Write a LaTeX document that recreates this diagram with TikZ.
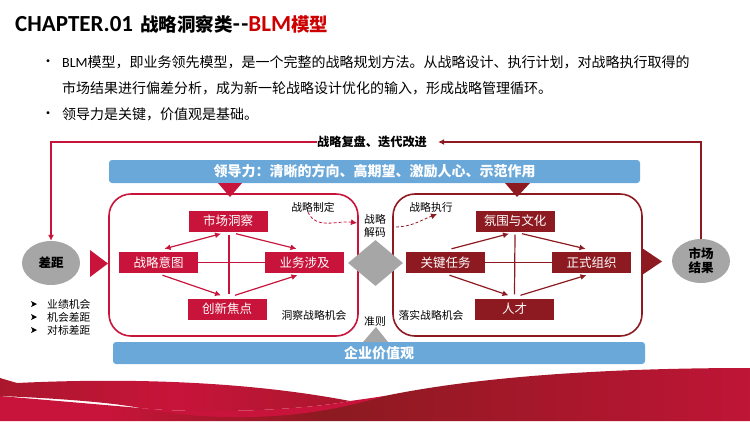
\documentclass[tikz,border=0pt]{standalone}
\usepackage{fontspec}
\usepackage{xcolor}
\setmainfont{Noto Sans CJK SC}
\newfontfamily\latinfont{Carlito}
\newcommand{\zhcomma}{\char"FF0C\relax}
\newcommand{\zhcolon}{\char"FF1A\relax}
\usetikzlibrary{shapes.geometric,arrows.meta,positioning,calc}
\definecolor{crimson}{HTML}{C8143A}
\definecolor{wine}{HTML}{8C1A20}
\definecolor{skyblue}{HTML}{6AA8D9}
\definecolor{stone}{HTML}{A6A6A6}
\pgfdeclarehorizontalshading{waveupper}{100bp}{color(0bp)=(wine); color(50bp)=(crimson); color(100bp)=(wine)}
\pgfdeclarehorizontalshading{wavebase}{100bp}{color(0bp)=(crimson); color(32bp)=(crimson); color(47bp)=(wine); color(80bp)=(crimson); color(100bp)=(crimson!45!wine)}
\tikzset{
    redbox/.style={fill=crimson, text=white, minimum width=79pt, minimum height=21pt, inner sep=0pt, font=\fontsize{12.5}{12.5}\selectfont},
    winebox/.style={redbox, fill=wine},
    bluebar/.style={fill=skyblue, rounded corners=3pt, text=white, inner sep=0pt, font=\fontsize{14}{14}\selectfont\bfseries},
    gapnode/.style={ellipse, fill=stone, minimum width=58pt, minimum height=44pt, inner sep=0pt, align=center, font=\fontsize{12.5}{14}\selectfont\bfseries},
    small/.style={font=\fontsize{10.8}{13}\selectfont, inner sep=0pt, align=center},
    redline/.style={crimson, line width=1.2pt},
    wineline/.style={wine, line width=1.2pt},
    tip/.style={-{Latex[length=6pt,width=6pt]}},
    bitip/.style={{Latex[length=6pt,width=6pt]}-{Latex[length=6pt,width=6pt]}},
    para/.style={anchor=west, inner sep=0pt, font=\fontsize{14}{14}\selectfont},
}
\begin{document}
\begin{tikzpicture}[x=1pt, y=-1pt]
    \useasboundingbox (0,0) rectangle (750,421);

    % Title and text
    \node[anchor=west, inner sep=0pt, font=\fontsize{18.5}{18.5}\selectfont\bfseries] (title) at (15,24) {{\latinfont\fontsize{23}{23}\selectfont CHAPTER.01}\kern3pt\ 战略洞察类{\latinfont\fontsize{23}{23}\selectfont -\kern1.5pt-}\textcolor{red!80!black}{{\latinfont\fontsize{23}{23}\selectfont BLM}模型}};
    \node[para] (line1) at (62,62) {{\latinfont BLM}模型\zhcomma 即业务领先模型\zhcomma 是一个完整的战略规划方法。从战略设计、执行计划\zhcomma 对战略执行取得的};
    \node[para] (line2) at (62,88) {市场结果进行偏差分析\zhcomma 成为新一轮战略设计优化的输入\zhcomma 形成战略管理循环。};
    \node[para] (line3) at (62,114) {领导力是关键\zhcomma 价值观是基础。};
    \node[para] (dot1) at (41,63) {•};
    \node[para] (dot3) at (41,115) {•};

    % Bars
    \node[bluebar, minimum width=531pt, minimum height=23pt] (leader) at (374.5,171.5) {领导力\zhcolon 清晰的方向、高期望、激励人心、示范作用};
    \node[bluebar, minimum width=532pt, minimum height=22pt] (value) at (379,353) {企业价值观};

    % Frames
    \node[draw=crimson, line width=1.6pt, rounded corners=22pt, minimum width=249pt, minimum height=142pt] (leftframe) at (233.5,265) {};
    \node[draw=wine, line width=1.6pt, rounded corners=22pt, minimum width=249pt, minimum height=142pt] (rightframe) at (517.5,265) {};
    \fill[crimson] (218,183) -- (242,183) -- (230,197) -- cycle;
    \fill[wine] (505,183) -- (530,183) -- (517,197) -- cycle;
    \fill[crimson] (90,250) -- (108,263.5) -- (90,277) -- cycle;
    \fill[wine] (642,248) -- (662,261.5) -- (642,275) -- cycle;

    % Left part
    \node[redbox] (market) at (228,221) {市场洞察};
    \node[redbox] (intent) at (158.5,262.5) {战略意图};
    \node[redbox] (business) at (304.5,262.5) {业务涉及};
    \node[redbox] (innovate) at (227,309) {创新焦点};
    \draw[redline] (intent) -- (business);
    \draw[redline] ([xshift=1pt,yshift=-3pt]market.south) -- ([xshift=2pt,yshift=4pt]innovate.north);
    \draw[redline, bitip] ([xshift=-7pt,yshift=-2pt]market.south) -- ([xshift=6pt,yshift=3pt]intent.north);
    \draw[redline, tip] ([xshift=8pt,yshift=-2pt]market.south) -- ([xshift=-8pt,yshift=3pt]business.north);
    \draw[redline, tip] ([xshift=4pt,yshift=-2pt]intent.south) -- ([xshift=-6pt,yshift=3pt]innovate.north);
    \draw[redline, tip] ([xshift=8pt,yshift=3pt]innovate.north) -- ([xshift=-7pt,yshift=-2pt]business.south);

    % Right part
    \node[winebox] (climate) at (515,221) {氛围与文化};
    \node[winebox] (task) at (445.5,262.5) {关键任务};
    \node[winebox] (organize) at (591.5,262.5) {正式组织};
    \node[winebox] (talent) at (514.5,309) {人才};
    \draw[wineline] (task) -- (organize);
    \draw[wineline] ([yshift=-3pt]climate.south) -- ([yshift=4pt]talent.north);
    \draw[wineline, tip] ([xshift=6pt,yshift=3pt]task.north) -- ([xshift=-6pt,yshift=-2pt]climate.south);
    \draw[wineline, tip] ([xshift=7pt,yshift=-2pt]climate.south) -- ([xshift=-6pt,yshift=3pt]organize.north);
    \draw[wineline, tip] ([xshift=4pt,yshift=-2pt]task.south) -- ([xshift=-6pt,yshift=3pt]talent.north);
    \draw[wineline, tip] ([xshift=6pt,yshift=3pt]talent.north) -- ([xshift=-5pt,yshift=-2pt]organize.south);

    % Decode part
    \node[diamond, fill=stone, minimum width=55pt, minimum height=46pt, inner sep=0pt] (decode) at (375.5,263) {};
    \fill[stone] (363,342) -- (376,327) -- (388,342) -- cycle;
    \node[small] (decodetext) at (375,226) {战略\\解码};
    \node[small] (rule) at (375,321) {准则};
    \node[small] (makelabel) at (313,207) {战略制定};
    \node[small] (runlabel) at (431,207) {战略执行};
    \node[small] (seeklabel) at (314,315) {洞察战略机会};
    \node[small] (landlabel) at (431,315) {落实战略机会};
    \draw[crimson, densely dashed, line width=0.8pt, tip] ([xshift=-5pt]makelabel.south) to[out=-65, in=172] ([xshift=-29pt,yshift=3pt]decodetext.east);
    \draw[wine, densely dashed, line width=0.8pt, tip] ([xshift=10pt,yshift=-1pt]decodetext.east) to[out=2, in=-160] ([xshift=6pt,yshift=-2pt]runlabel.south);

    % Gap and result
    \node[gapnode] (gap) at (51,263) {差距};
    \node[gapnode] (result) at (701,261) {市场\\结果};
    \node[font=\fontsize{12.2}{12}\selectfont\bfseries, inner sep=0pt] (review) at (372,142) {战略复盘、迭代改进};
    \draw[redline, tip] (review.west) -- ++(-6,0) -| (gap.north);
    \draw[wineline, tip] (result.north) |- ([xshift=11pt]review.east);
    \node[small, anchor=west] (item1) at (47,304) {业绩机会};
    \node[small, anchor=west] (item2) at (47,317) {机会差距};
    \node[small, anchor=west] (item3) at (47,330) {对标差距};
    \foreach \y in {item1,item2,item3}
        \fill (\y.west) ++(-16,-3) -- ++(6,3) -- ++(-6,3) -- ++(1.5,-3) -- cycle;

    % Wave at the bottom
    \shade[shading=wavebase] (0,396) -- (140,408) .. controls (220,418) and (300,412) .. (375,398) .. controls (480,375) and (620,368) .. (750,368) -- (750,421) -- (0,421) -- cycle;
    \shade[shading=waveupper] (0,378) -- (17,383) .. controls (100,379) and (230,378) .. (350,401) .. controls (310,409) and (210,415) .. (140,408) .. controls (110,402) and (50,398) .. (0,396) -- cycle;
    \fill[crimson] (140,408) .. controls (210,415) and (310,409) .. (350,401) -- (385,396) .. controls (340,409) and (300,416) .. (250,417) .. controls (210,418) and (170,414) .. (140,408) -- cycle;
\end{tikzpicture}
\end{document}
